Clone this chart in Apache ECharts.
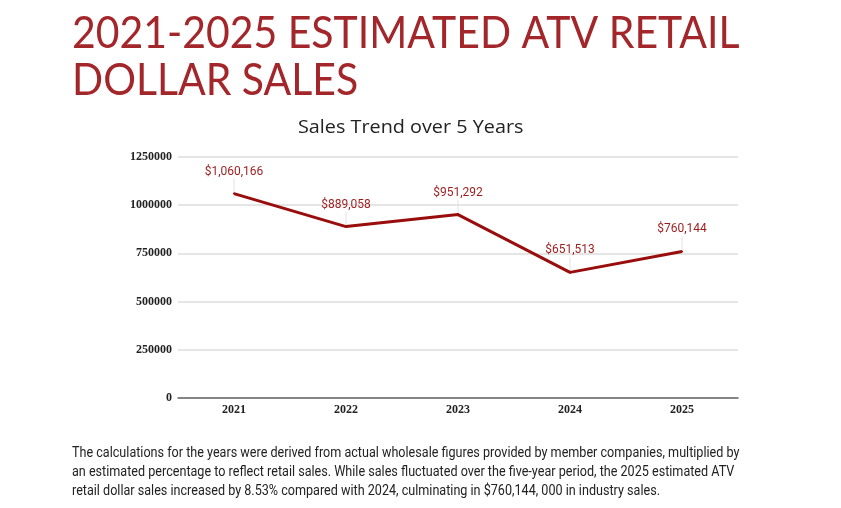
<!DOCTYPE html>
<html>
<head>
    <meta charset="utf-8">
    <title>ATV Retail Dollar Sales</title>
    <script src="https://cdn.jsdelivr.net/npm/echarts@6/dist/echarts.min.js"></script>
    <style>
        html, body { margin: 0; padding: 0; background: #fff; }
        #main { width: 841px; height: 508px; }
    </style>
</head>
<body>
    <div id="main"></div>
<script type="text/javascript">
    // data
    var years = ['2021', '2022', '2023', '2024', '2025'];
    var sales = [1060166, 889058, 951292, 651513, 760144];
    var yTicks = [0, 250000, 500000, 750000, 1000000, 1250000];

    var noteLines = [
        'The calculations for the years were derived from actual wholesale figures provided by member companies, multiplied by',
        'an estimated percentage to reflect retail sales. While sales fluctuated over the five-year period, the 2025 estimated ATV',
        'retail dollar sales increased by 8.53% compared with 2024, culminating in $760,144, 000 in industry sales.'
    ];

    function money(v) {
        return '$' + v.toString().replace(/\B(?=(\d{3})+(?!\d))/g, ',');
    }

    var option = {
        animation: false,
        graphic: [{
            type: 'text',
            left: 72,
            top: 10,
            scaleX: 0.91,
            style: {
                text: '2021-2025 ESTIMATED ATV RETAIL\nDOLLAR SALES',
                fill: '#a3262a',
                font: 'normal 45px Lato',
                lineHeight: 47
            }
        }, {
            type: 'text',
            left: 298,
            top: 119,
            scaleX: 1.1,
            style: {
                text: 'Sales Trend over 5 Years',
                fill: '#222',
                font: 'normal 18px "Open Sans"'
            }
        }, {
            type: 'text',
            left: 72,
            top: 444,
            scaleX: 0.9,
            style: {
                text: noteLines.join('\n'),
                fill: '#222',
                font: 'normal 14px Roboto',
                lineHeight: 19
            }
        }],
        grid: {
            left: 178,
            right: 103,
            top: 157,
            bottom: 110
        },
        xAxis: {
            type: 'category',
            data: years,
            axisLine: { lineStyle: { color: '#666', width: 1.5 } },
            axisTick: { show: false },
            axisLabel: {
                color: '#222',
                fontFamily: 'Liberation Serif',
                fontWeight: 'bold',
                fontSize: 12,
                margin: 6
            }
        },
        yAxis: {
            type: 'value',
            min: yTicks[0],
            max: yTicks[yTicks.length - 1],
            interval: yTicks[1] - yTicks[0],
            axisLine: { show: false },
            axisTick: { show: false },
            splitLine: { lineStyle: { color: '#ddd', width: 1.5 } },
            axisLabel: {
                color: '#222',
                fontFamily: 'Liberation Serif',
                fontWeight: 'bold',
                fontSize: 12,
                margin: 6,
                formatter: function (v) { return String(v); }
            }
        },
        series: [{
            // thin leader lines from each label down to its point
            type: 'custom',
            data: sales.map(function (v, i) { return [i, v]; }),
            silent: true,
            renderItem: function (params, api) {
                var p = api.coord([api.value(0), api.value(1)]);
                return {
                    type: 'line',
                    shape: { x1: p[0], y1: p[1], x2: p[0], y2: p[1] - 15 },
                    style: { stroke: '#e2e2e2', lineWidth: 1 }
                };
            }
        }, {
            type: 'line',
            data: sales,
            symbol: 'circle',
            symbolSize: 2,
            showSymbol: true,
            itemStyle: { color: '#990d0d' },
            lineStyle: { color: '#990d0d', width: 3 },
            label: {
                show: true,
                position: 'top',
                distance: 15,
                color: '#9e1b1b',
                fontFamily: 'Roboto',
                fontSize: 12,
                formatter: function (p) { return money(p.value); }
            }
        }]
    };

    var myChart = echarts.init(document.getElementById('main'));
    myChart.setOption(option);
</script>
</body>
</html>
